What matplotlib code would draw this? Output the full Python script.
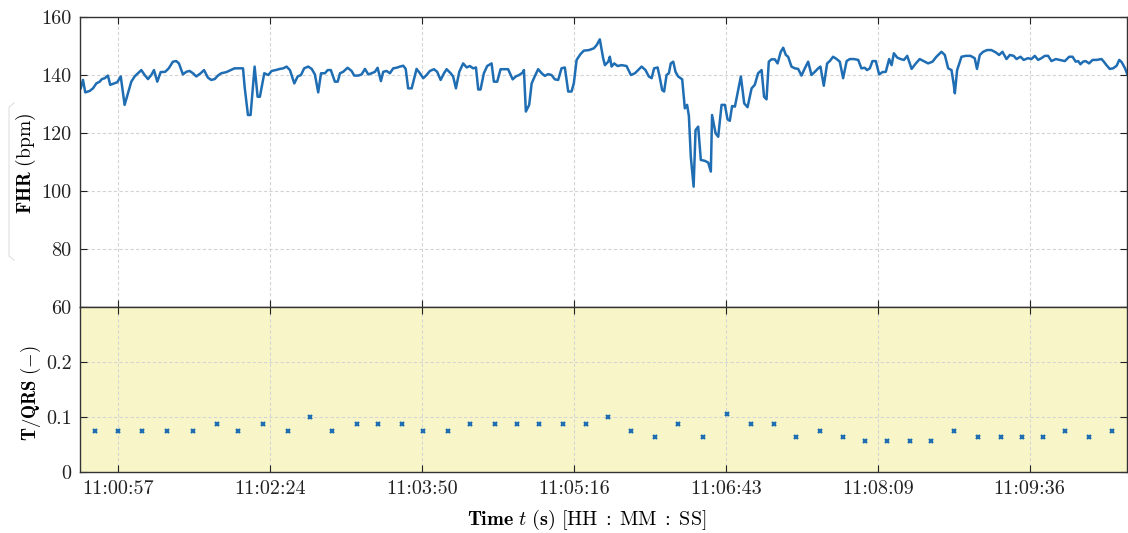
import matplotlib
matplotlib.use('Agg')
import matplotlib.pyplot as plt
from matplotlib.lines import Line2D

# ---- data (time in seconds since 11:00:35.4) ----
t_fhr = [0.4, 1.7, 3.0, 5.5, 7.4, 9.3, 11.2, 12.5, 14.1, 15.9, 17.2, 19.4, 21.2, 23.2, 25.4, 27.3,
         29.2, 31.1, 33.0, 34.9, 36.8, 38.7, 40.6, 42.1, 44.0, 45.9, 48.5, 50.5, 52.9, 54.8, 56.3,
         58.6, 60.5, 62.4, 64.3, 66.2, 68.7, 70.6, 72.8, 74.7, 76.7, 78.5, 80.4, 83.3, 85.8, 88.0,
         90.9, 92.8, 93.7, 95.6, 97.1, 99.4, 101.1, 102.4, 104.9, 107.2, 109.1, 111.4, 113.8, 115.7,
         117.6, 119.5, 122.0, 123.9, 125.8, 127.6, 129.9, 131.9, 133.7, 135.6, 137.2, 139.4, 141.0,
         142.8, 145.1, 146.7, 148.0, 149.8, 152.3, 154.6, 156.1, 158.4, 160.3, 162.2, 164.1, 166.0,
         167.9, 169.4, 171.3, 172.6, 174.5, 176.4, 178.3, 180.2, 182.1, 184.0, 185.4, 186.8, 188.8,
         191.6, 193.5, 195.4, 197.3, 199.2, 201.5, 203.3, 205.3, 207.2, 208.7, 211.0, 212.4, 214.0,
         215.9, 218.1, 220.1, 221.9, 223.8, 225.4, 226.7, 228.0, 229.9, 231.8, 234.3, 235.6, 237.5,
         239.4, 241.9, 243.7, 246.3, 248.1, 250.0, 251.9, 252.7, 253.8, 255.7, 257.1, 259.0, 260.8,
         262.8, 264.6, 266.5, 268.4, 270.3, 272.2, 274.1, 276.0, 277.9, 279.8, 281.1, 282.7, 284.9,
         286.8, 289.8, 292.5, 294.1, 295.9, 297.8, 298.8, 300.7, 301.6, 302.6, 304.1, 306.0, 308.3,
         311.1, 313.6, 315.9, 317.7, 319.7, 321.9, 323.8, 325.4, 326.8, 328.8, 330.1, 331.4, 332.5,
         333.9, 335.2, 336.3, 337.7, 339.0, 340.5, 342.8, 344.3, 345.6, 346.6, 347.7, 349.3, 350.4,
         351.9, 353.4, 355.7, 357.6, 359.1, 359.8, 361.8, 363.3, 365.2, 367.1, 368.6, 369.9, 371.2,
         372.8, 374.3, 376.2, 378.1, 380.0, 382.3, 384.1, 386.0, 388.0, 389.4, 390.8, 392.1, 393.6,
         395.5, 397.1, 398.9, 400.3, 401.8, 403.1, 405.0, 406.9, 408.8, 410.7, 412.6, 414.5, 416.4,
         418.3, 420.2, 421.5, 423.4, 425.3, 426.8, 428.7, 430.7, 432.5, 434.4, 436.4, 438.2, 440.5,
         443.0, 444.8, 446.7, 448.0, 449.6, 451.1, 453.0, 454.9, 456.8, 458.7, 460.6, 462.0, 463.3,
         465.2, 467.1, 469.0, 470.9, 473.4, 475.8, 478.0, 480.3, 482.8, 485.3, 487.5, 490.4, 492.3,
         494.2, 496.1, 497.4, 498.0, 499.3, 501.8, 504.2, 506.9, 509.3, 510.6, 512.2, 514.1, 516.3,
         518.8, 521.3, 523.2, 525.1, 527.4, 529.3, 531.5, 533.1, 535.4, 537.2, 539.7, 541.6, 543.5,
         545.4, 547.3, 549.2, 551.1, 553.0, 555.5, 557.8, 560.6, 563.1, 565.0, 566.8, 568.2, 569.5,
         571.0, 572.5, 574.4, 576.4, 578.6, 581.5, 582.8, 584.3, 586.2, 588.1, 590.1, 591.6, 593.0,
         594.9, 596.2]
fhr = [135.4, 138.3, 134.0, 134.5, 135.4, 137.1, 137.7, 138.6, 138.9, 139.8, 136.6, 137.1, 137.5,
       139.5, 129.7, 133.7, 137.7, 139.5, 140.6, 141.7, 140.0, 138.6, 140.0, 141.7, 137.7, 141.0,
       141.1, 142.3, 144.6, 144.8, 144.0, 140.2, 141.1, 141.4, 140.6, 139.5, 140.6, 141.7, 139.1,
       138.3, 138.6, 139.8, 140.6, 141.0, 141.7, 142.3, 142.3, 142.3, 136.0, 126.2, 126.2, 142.9,
       132.5, 132.5, 140.6, 140.0, 141.4, 141.7, 142.1, 142.3, 142.9, 141.7, 137.1, 139.5, 140.0,
       142.3, 142.9, 142.1, 140.2, 134.0, 140.6, 140.6, 141.7, 141.7, 137.7, 137.7, 140.6, 141.1,
       142.5, 141.4, 139.8, 139.8, 140.2, 142.1, 140.2, 140.6, 141.1, 142.5, 137.9, 141.1, 141.4,
       140.6, 142.3, 142.5, 142.9, 143.2, 142.1, 135.4, 135.4, 142.1, 140.6, 138.9, 140.0, 141.4,
       142.0, 141.1, 138.3, 140.6, 142.0, 140.6, 139.5, 135.4, 141.1, 144.0, 142.6, 143.1, 142.3,
       142.6, 135.0, 135.0, 140.6, 143.1, 144.0, 137.7, 137.7, 142.0, 142.0, 142.0, 138.5, 139.5,
       140.0, 140.8, 141.7, 127.4, 129.7, 137.1, 139.7, 142.0, 140.6, 139.7, 140.3, 140.0, 138.5,
       138.3, 142.3, 142.6, 134.3, 134.3, 137.1, 145.2, 147.2, 148.4, 148.6, 149.2, 150.3, 152.3,
       145.8, 143.4, 144.6, 146.3, 142.9, 144.0, 143.1, 143.4, 143.1, 140.0, 140.6, 141.7, 142.9,
       141.7, 139.5, 138.9, 142.3, 142.6, 138.9, 134.8, 134.3, 140.0, 140.6, 144.0, 144.6, 141.1,
       139.5, 138.5, 128.5, 129.7, 125.9, 111.8, 101.5, 121.0, 122.2, 110.7, 110.4, 109.8, 106.7,
       126.2, 119.9, 118.7, 129.7, 129.7, 124.7, 124.2, 129.3, 129.1, 133.7, 139.5, 130.2, 128.9,
       135.4, 136.6, 140.6, 141.7, 132.5, 131.6, 144.6, 145.4, 145.4, 144.0, 148.0, 149.4, 146.9,
       146.3, 142.9, 142.3, 142.1, 139.8, 142.3, 144.6, 140.0, 141.1, 142.3, 142.9, 136.3, 144.0,
       144.8, 146.3, 145.5, 144.6, 138.9, 144.8, 145.5, 145.5, 145.2, 142.3, 142.5, 141.7, 142.3,
       144.8, 144.8, 140.2, 141.0, 141.1, 145.5, 143.4, 147.5, 146.0, 145.5, 145.2, 146.6, 142.1,
       144.0, 145.5, 144.8, 144.0, 144.6, 146.3, 148.0, 146.9, 142.3, 141.7, 136.6, 133.7, 141.7,
       146.3, 146.6, 146.6, 145.8, 142.1, 146.9, 148.0, 148.6, 148.6, 147.8, 146.9, 148.0, 145.5,
       146.9, 146.6, 145.5, 146.3, 145.2, 145.8, 145.5, 146.6, 145.2, 145.8, 146.6, 146.6, 144.8,
       145.5, 145.2, 144.8, 146.3, 146.3, 144.6, 144.8, 143.7, 144.6, 144.8, 144.0, 145.2, 145.2,
       145.5, 144.6, 143.4, 142.1, 142.3, 143.2, 145.2, 144.4, 142.3, 140.2]

t_tqrs = [8.5, 21.5, 35.1, 49.3, 64.5, 77.8, 90.1, 104.3, 118.5, 130.9, 143.2, 157.5, 169.8, 183.1,
          195.4, 209.6, 222.0, 236.2, 248.5, 261.4, 275.0, 288.0, 300.7, 313.4, 327.2, 340.2, 354.4,
          368.4, 381.7, 395.0, 407.5, 421.5, 434.1, 446.7, 459.4, 472.4, 484.7, 497.4, 511.2, 524.0,
          536.0, 547.9, 560.6, 574.4, 587.2]
tqrs = [0.075, 0.075, 0.075, 0.075, 0.075, 0.087, 0.075, 0.087, 0.075, 0.100, 0.075, 0.087, 0.087,
        0.087, 0.075, 0.075, 0.087, 0.087, 0.087, 0.087, 0.087, 0.087, 0.100, 0.075, 0.064, 0.087,
        0.064, 0.105, 0.087, 0.087, 0.064, 0.075, 0.064, 0.057, 0.057, 0.057, 0.057, 0.075, 0.064,
        0.064, 0.064, 0.064, 0.075, 0.064, 0.075]

time_ticks = [21.6, 108.1, 194.6, 281.1, 367.6, 454.1, 540.6]
time_labels = ['11:00:57', '11:02:24', '11:03:50', '11:05:16', '11:06:43', '11:08:09', '11:09:36']
fhr_ticks = [60, 80, 100, 120, 140, 160]
fhr_labels = ['60', '80', '100', '120', '140', '160']
tqrs_ticks = [0, 0.1, 0.2]
tqrs_labels = ['0', '0.1', '0.2']

# ---- style ----
plt.rcParams.update({
    'font.family': ['cmr10', 'DejaVu Serif'],
    'mathtext.fontset': 'cm',
    'axes.unicode_minus': False,
})

BLUE = '#1f6db3'
YELLOW = '#f8f6c8'
SPINE = '#333333'
GRID = '#d4d4d4'
TICKFS = 14.5

fig = plt.figure(figsize=(11.28, 5.33), dpi=100)
W, H = 1128.0, 533.0
L, R = 80 / W, 1127 / W
ax1 = fig.add_axes([L, 1 - 307 / H, R - L, (307 - 17) / H])
ax2 = fig.add_axes([L, 1 - 472 / H, R - L, (472 - 307) / H])

for ax in (ax1, ax2):
    ax.set_xlim(0, 596)
    ax.set_xticks(time_ticks)
    ax.grid(True, color=GRID, linestyle=(0, (3, 2)), linewidth=0.8)
    ax.set_axisbelow(True)
    ax.tick_params(direction='in', length=5, width=0.8, top=True, right=True,
                   labelsize=TICKFS, colors='#222222', pad=6)
    for s in ax.spines.values():
        s.set_color(SPINE)
        s.set_linewidth(1.0)

# top panel
ax1.plot(t_fhr, fhr, color=BLUE, linewidth=1.8, solid_joinstyle='round')
ax1.set_ylim(60, 160)
ax1.set_yticks(fhr_ticks)
ax1.set_yticklabels(fhr_labels)
ax1.tick_params(labelbottom=False)
ax1.set_ylabel(r'$\mathbf{FHR}\ \mathrm{(bpm)}$', fontsize=14)
ax1.yaxis.set_label_coords(-0.040, 0.495)

# bottom panel
ax2.set_facecolor(YELLOW)
ax2.plot(t_tqrs, tqrs, linestyle='none', marker='x', markersize=3.5,
         markeredgewidth=1.6, color=BLUE)
ax2.set_ylim(0, 0.3)
ax2.set_yticks(tqrs_ticks)
ax2.set_yticklabels(tqrs_labels)
ax2.set_xticklabels(time_labels)
ax2.set_ylabel(r'$\mathbf{T/QRS}\ (-)$', fontsize=13.5)
ax2.yaxis.set_label_coords(-0.035, 0.48)
ax2.set_xlabel(r'$\mathbf{Time}\ t\ \mathbf{(s)}\ \mathrm{[HH\;:\;MM\;:\;SS]}$', fontsize=14.5)
ax2.xaxis.set_label_coords(0.484, -0.22)

# faint bracket around FHR label (as in reference)
fig.add_artist(Line2D([14 / W, 9 / W, 9 / W, 14 / W],
                      [1 - 103 / H, 1 - 107 / H, 1 - 256 / H, 1 - 260 / H],
                      color='#e6e6e6', linewidth=1.0))

fig.savefig('out.png', dpi=100)
